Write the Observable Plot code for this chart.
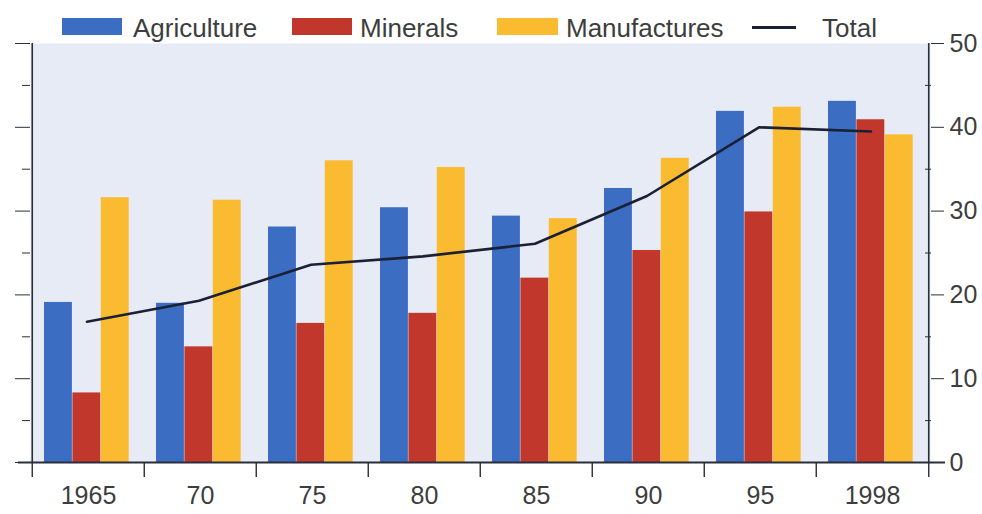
<!DOCTYPE html>
<html><head><meta charset="utf-8">
<script src="https://cdn.jsdelivr.net/npm/d3@7"></script>
<script src="https://cdn.jsdelivr.net/npm/@observablehq/plot@0.6"></script>
<style>
body{margin:0;background:#fff;font-family:"Liberation Sans",Arial,sans-serif;}
#wrap{width:982px;}
#legend{position:relative;height:30px;}
.sw{position:absolute;top:18px;height:17px;}
.lt{position:absolute;top:15px;font-size:26px;line-height:26px;color:#3d3d3d;white-space:nowrap;}
.ln{position:absolute;top:26px;height:2.5px;}
</style></head><body>
<div id="wrap"><div id="legend"></div><div id="chart"></div></div>
<script>
// ---- data ----
const years = ["1965", "70", "75", "80", "85", "90", "95", "1998"];
const agriculture  = [19.1, 19.0, 28.1, 30.4, 29.4, 32.7, 41.9, 43.1];
const minerals     = [8.3, 13.8, 16.6, 17.8, 22.0, 25.3, 29.9, 40.9];
const manufactures = [31.6, 31.3, 36.0, 35.2, 29.1, 36.3, 42.4, 39.1];
const total        = [16.8, 19.3, 23.6, 24.6, 26.1, 31.8, 40.0, 39.5];
const seriesNames = ["Agriculture", "Minerals", "Manufactures"];
const totalName = "Total";
const yTicks = [0, 10, 20, 30, 40, 50];
const yMinorTicks = [5, 15, 25, 35, 45];

// ---- style ----
const seriesColors = ["#3b6dc3", "#c1372c", "#fbbb30"];
const lineColor = "#1b2034";
const axisColor = "#2b2e38";
const textColor = "#3d3d3d";
const bgColor = "#e6ebf6";

const seriesValues = [agriculture, minerals, manufactures];
const rows = years.flatMap((yr, i) => seriesNames.map((s, k) => ({year: yr, series: s, k, value: seriesValues[k][i]})));
const totalRows = years.map((yr, i) => ({year: yr, total: total[i]}));

// legend (HTML, above the svg)
const legend = document.getElementById("legend");
const legendLayout = [
  {sw: 62, sww: 60, tx: 133},
  {sw: 292, sww: 60, tx: 360},
  {sw: 497, sww: 61, tx: 566}
];
seriesNames.forEach((s, k) => {
  const sw = document.createElement("div");
  sw.className = "sw"; sw.style.left = legendLayout[k].sw + "px"; sw.style.width = legendLayout[k].sww + "px";
  sw.style.background = seriesColors[k];
  legend.appendChild(sw);
  const t = document.createElement("div");
  t.className = "lt"; t.style.left = legendLayout[k].tx + "px"; t.textContent = s;
  legend.appendChild(t);
});
{
  const ln = document.createElement("div");
  ln.className = "ln"; ln.style.left = "752px"; ln.style.width = "44px"; ln.style.background = lineColor;
  legend.appendChild(ln);
  const t = document.createElement("div");
  t.className = "lt"; t.style.left = "822px"; t.textContent = totalName;
  legend.appendChild(t);
}

const W = 982, H = 484, mL = 30, mR = 52, mT = 13, mB = 52;
const bw = (W - mL - mR) / years.length;
const barW = 28.4, pad0 = 12;
const first = years[0], last = years[years.length - 1];

const chart = Plot.plot({
  width: W, height: H,
  marginLeft: mL, marginRight: mR, marginTop: mT, marginBottom: mB,
  style: {fontFamily: "Liberation Sans, Arial, sans-serif", fontSize: "25px", color: textColor, background: "transparent", overflow: "visible"},
  x: {type: "band", domain: years, padding: 0},
  y: {domain: [0, 50]},
  marks: [
    Plot.frame({fill: bgColor, stroke: null}),
    ...seriesNames.map((s, k) => Plot.barY(rows.filter(d => d.k === k), {
      x: "year", y: "value", fill: seriesColors[k],
      insetLeft: pad0 + k * barW, insetRight: bw - pad0 - (k + 1) * barW
    })),
    Plot.line(totalRows, {x: "year", y: "total", stroke: lineColor, strokeWidth: 2.6, dx: -1.5}),
    Plot.ruleY([0], {stroke: axisColor, strokeWidth: 2.2, insetLeft: -12, insetRight: -15}),
    Plot.ruleX([first], {dx: -bw / 2, y1: 0, y2: 50, stroke: axisColor, strokeWidth: 1.6}),
    Plot.ruleX([last], {dx: bw / 2, y1: 0, y2: 50, stroke: axisColor, strokeWidth: 1.6}),
    Plot.ruleX(years, {dx: -bw / 2, y1: 0, y2: 0, insetBottom: -15, stroke: axisColor, strokeWidth: 1.4}),
    Plot.ruleX([last], {dx: bw / 2, y1: 0, y2: 0, insetBottom: -15, stroke: axisColor, strokeWidth: 1.4}),
    Plot.axisY({anchor: "right", ticks: yTicks, tickSize: 13, tickPadding: 6, fontSize: 25, label: null, color: axisColor, fill: textColor}),
    Plot.axisY({anchor: "right", ticks: yMinorTicks, tickSize: 6, dx: -6, tickFormat: () => "", label: null, color: axisColor}),
    Plot.axisY({anchor: "left", ticks: yTicks, tickSize: 15, tickFormat: () => "", label: null, color: axisColor}),
    Plot.axisY({anchor: "left", ticks: yMinorTicks, tickSize: 8, tickFormat: () => "", label: null, color: axisColor}),
    Plot.axisX({tickSize: 0, tickPadding: 24, fontSize: 25, label: null, fill: textColor})
  ]
});
document.getElementById("chart").appendChild(chart);
</script>
</body></html>
